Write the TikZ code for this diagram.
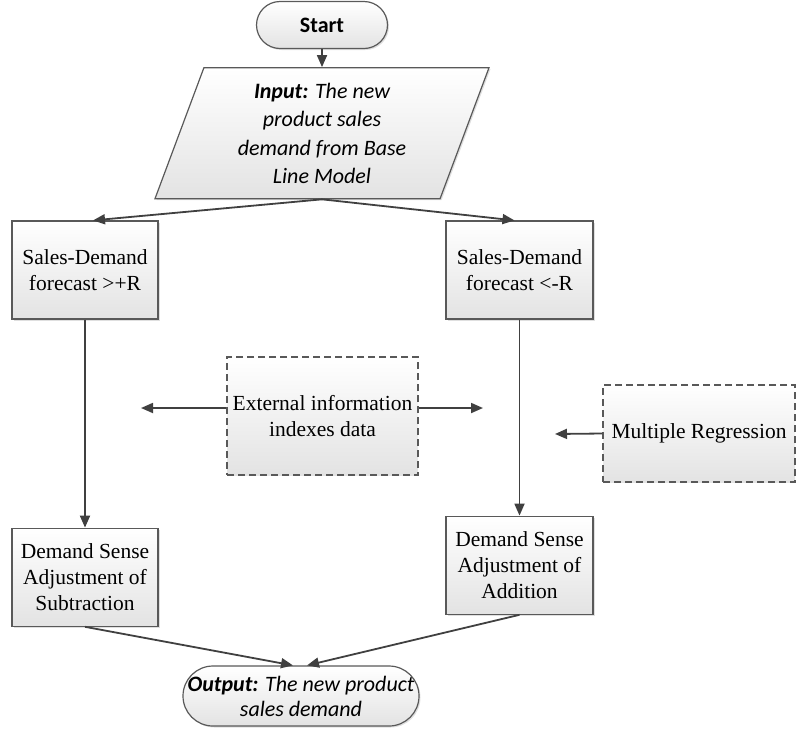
\documentclass[tikz,border=0pt]{standalone}
\usepackage{fontspec}
\setmainfont{Liberation Serif}
\newfontfamily\calibri{Carlito}
\usetikzlibrary{positioning, arrows.meta, shapes.geometric, shadows}

\begin{document}
\begin{tikzpicture}[x=1pt, y=-1pt, >={Triangle[length=12pt, width=10pt]}, node distance=18pt,
    flow/.style={draw=black!65, line width=1.2pt, top color=white, bottom color=black!11, align=center, inner sep=2pt, font=\fontsize{21.5}{26}\selectfont},
    shade/.style={drop shadow={shadow xshift=1.5pt, shadow yshift=-1.5pt, opacity=0.25}},
    box/.style={flow, shade, rectangle},
    extbox/.style={flow, rectangle, dash pattern=on 7pt off 4pt},
    term/.style={flow, shade, rectangle, font=\calibri\fontsize{22}{26}\selectfont},
    link/.style={->, draw=black!75, line width=1.8pt}]

    \useasboundingbox (0,0) rectangle (799,729);

    % 1. Define Nodes
    \node (start) [term, rounded corners=23.5pt, minimum width=131, minimum height=47] at (322,25) {\textbf{Start}};
    \node (input) [flow, shade, trapezium, trapezium left angle=65, trapezium right angle=115, trapezium stretches body, minimum width=334, minimum height=131, below=of start, font=\calibri\itshape\fontsize{22}{28.5}\selectfont]
        {\textbf{Input:} The new\\product sales\\demand from Base\\Line Model};

    \node (sdplus) [box, minimum width=146, minimum height=98] at (85,270) {Sales-Demand\\forecast >+R};
    \node (sdminus) [box, minimum width=147, minimum height=98] at (519.5,270) {Sales-Demand\\forecast <-R};

    % Dashed side inputs
    \node (extinfo) [extbox, minimum width=191, minimum height=118] at (322.5,416) {External information\\indexes data};
    \node (multreg) [extbox, minimum width=192, minimum height=97] at (699,433.5) {Multiple Regression};
    \coordinate (extL) at (141,408);
    \coordinate (extR) at (483,408);
    \coordinate (mrL) at (555,434);

    \node (subadj) [box, minimum width=146, minimum height=98, below=208pt of sdplus] {Demand Sense\\Adjustment of\\Subtraction};
    \node (addadj) [box, minimum width=147, minimum height=98, below=196pt of sdminus] {Demand Sense\\Adjustment of\\Addition};

    \node (output) [term, rounded corners=30pt, minimum width=236, minimum height=60, inner xsep=0pt, font=\calibri\itshape\fontsize{22}{25}\selectfont] at (301,696)
        {\textbf{Output:} The new product\\sales demand};

    % 2. Draw Arrows
    \draw[link] (start) -- (input);

    % Split into the two forecast cases
    \draw[link] (input.south) -- ([xshift=8pt]sdplus.north);
    \draw[link] (input.south) -- ([xshift=-5pt]sdminus.north);

    % Down to the adjustments
    \draw[link] (sdplus) -- (subadj);
    \draw[link] (sdminus) -- (addadj);

    % Side information
    \draw[link] (extinfo.west |- extL) -- (extL);
    \draw[link] (extinfo.east |- extR) -- (extR);
    \draw[link] (multreg.west) -- (mrL);

    % Join at the output
    \draw[link] (subadj.south) -- ([xshift=-8pt]output.north);
    \draw[link] (addadj.south) -- ([xshift=6pt]output.north);

\end{tikzpicture}
\end{document}
